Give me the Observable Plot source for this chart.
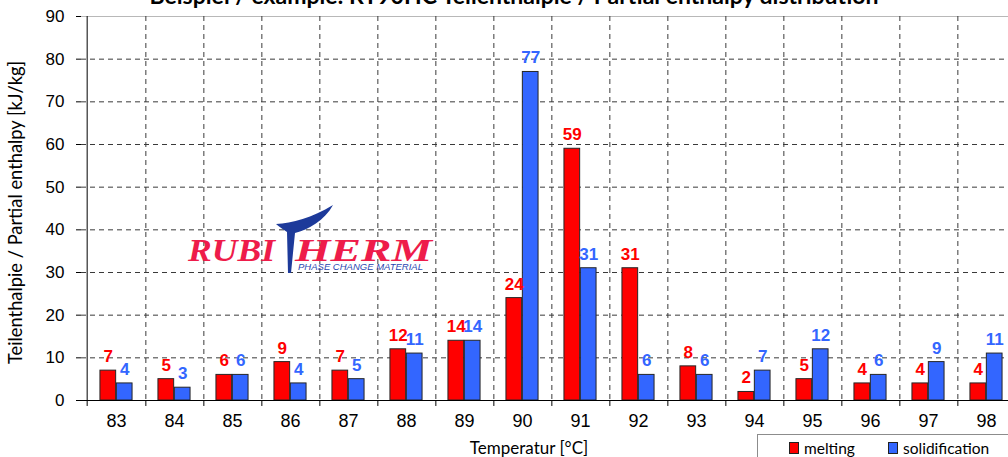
<!DOCTYPE html>
<html>
<head>
<meta charset="utf-8">
<script src="https://cdn.jsdelivr.net/npm/d3@7"></script>
<script src="https://cdn.jsdelivr.net/npm/@observablehq/plot@0.6"></script>
<style>
  html, body { margin: 0; padding: 0; background: white; }
  #wrap { position: relative; width: 1008px; height: 457px; overflow: hidden; }
  #legend { position: absolute; left: 757px; top: 434px; width: 260px; height: 30px;
    border: 1px solid #8c8c8c; background: white; font-family: Lato, "Open Sans", sans-serif; font-size: 15.5px; color: #000; }
  #legend .item { position: absolute; top: 4px; display: flex; align-items: center; }
  #legend .sw { width: 8px; height: 10px; border: 1px solid #222; margin-right: 5px; }
  #logo { position: absolute; left: 0; top: 0; pointer-events: none; }
</style>
</head>
<body>
<div id="wrap"></div>
<script>
const categories = ["83","84","85","86","87","88","89","90","91","92","93","94","95","96","97","98"];
const melting =       [7, 5, 6, 9, 7, 12, 14, 24, 59, 31, 8, 2, 5, 4, 4, 4];
const solidification = [4, 3, 6, 4, 5, 11, 14, 77, 31, 6, 6, 7, 12, 6, 9, 11];
const yTicks = [0, 10, 20, 30, 40, 50, 60, 70, 80, 90];
const gridTicks = [10, 20, 30, 40, 50, 60, 70, 80];
const seriesNames = ["melting", "solidification"];
const colors = ["#ff0000", "#3366ff"];
const titleText = "Beispiel / example: RT90HC Teilenthalpie / Partial enthalpy distribution";
const yLabel = "Teilenthalpie / Partial enthalpy [kJ/kg]";
const xLabel = "Temperatur [°C]";

const table = categories.map((c, i) => ({cat: c, melting: melting[i], solidification: solidification[i]}));

const x0 = 81.5, x1 = 1020.5;
const bw = (x1 - x0) / categories.length;
const barW = 16.4;
const grid = {stroke: "#3a3a3a", strokeDasharray: "5,4", strokeWidth: 1};
const arial = "'Liberation Sans', Arial, sans-serif";
const calibri = "Lato, 'Open Sans', sans-serif";

const chart = Plot.plot({
  width: 1008,
  height: 457,
  marginLeft: 81,
  marginRight: 0,
  marginTop: 16,
  marginBottom: 57,
  style: {fontFamily: arial, background: "white", color: "#000", overflow: "visible"},
  x: {type: "band", domain: categories, range: [x0, x1], padding: 0},
  y: {domain: [0, 90], range: [400, 16]},
  marks: [
    Plot.ruleY(gridTicks, grid),
    Plot.ruleY([90], {stroke: "#b8b8b8"}),
    Plot.ruleX(categories, {x: d => d, dx: bw / 2, ...grid}),
    Plot.barY(table, {x: "cat", y: "melting", fill: colors[0], stroke: "#262626", strokeWidth: 1,
      insetLeft: bw / 2 - barW, insetRight: bw / 2}),
    Plot.barY(table, {x: "cat", y: "solidification", fill: colors[1], stroke: "#262626", strokeWidth: 1,
      insetLeft: bw / 2, insetRight: bw / 2 - barW}),
    Plot.text(table, {x: "cat", y: "melting", text: d => String(d.melting), dx: -barW / 2, dy: -14,
      fill: colors[0], fontWeight: "bold", fontSize: 17, fontFamily: arial}),
    Plot.text(table, {x: "cat", y: "solidification", text: d => String(d.solidification), dx: barW / 2, dy: -14,
      fill: colors[1], fontWeight: "bold", fontSize: 17, fontFamily: arial}),
    Plot.ruleY([0], {stroke: "#000"}),
    Plot.ruleX([categories[0]], {dx: -bw / 2, stroke: "#000"}),
    Plot.ruleX(categories, {x: d => d, dx: bw / 2, y1: 0, y2: -1.4, stroke: "#000"}),
    Plot.ruleX([categories[0]], {dx: -bw / 2, y1: 0, y2: -1.4, stroke: "#000"}),
    Plot.axisY({ticks: yTicks, tickSize: 5, tickPadding: 12, fontSize: 17, fontFamily: arial, label: null}),
    Plot.axisX({tickSize: 0, tickPadding: 14, fontSize: 18, fontFamily: arial, label: null}),
    Plot.text([yLabel], {frameAnchor: "left", textAnchor: "middle", lineAnchor: "middle", rotate: -90, dx: -65, dy: 4,
      fontSize: 18.3, fontFamily: calibri}),
    Plot.text([xLabel], {frameAnchor: "bottom", lineAnchor: "middle", dx: -16, dy: 48, fontSize: 17, fontFamily: calibri}),
    Plot.text([titleText], {frameAnchor: "top", dx: -31, dy: -13, lineAnchor: "bottom", fontSize: 23,
      fontWeight: "bold", fontFamily: calibri})
  ]
});
const wrap = document.getElementById("wrap");
wrap.appendChild(chart);

// Logo (decoration)
const ns = "http://www.w3.org/2000/svg";
const logo = document.createElementNS(ns, "svg");
logo.setAttribute("id", "logo");
logo.setAttribute("width", 1008);
logo.setAttribute("height", 457);
logo.innerHTML = `
  <g font-family="'Liberation Serif', 'DejaVu Serif', serif" font-weight="bold" font-style="italic" fill="#ee1c4a">
    <text x="188" y="261" font-size="32" textLength="87" lengthAdjust="spacingAndGlyphs">RUBI</text>
    <text x="295" y="261" font-size="32" textLength="137" lengthAdjust="spacingAndGlyphs">HERM</text>
  </g>
  <path d="M276,224 C292,223 312,218 333,205 C325,220 308,230 295,233 L291,273 L288,273 L287,232 C283,229 279,227 276,224 Z" fill="#1d3a9a"/>
  <text x="298" y="270" font-family="'Liberation Sans', Arial, sans-serif" font-style="italic" font-size="9.5" fill="#2a46b0" textLength="125" lengthAdjust="spacingAndGlyphs">PHASE CHANGE MATERIAL</text>
`;
wrap.appendChild(logo);

// Legend
const legend = document.createElement("div");
legend.id = "legend";
const lx = [31, 130];
seriesNames.forEach((n, i) => {
  const it = document.createElement("div");
  it.className = "item";
  it.style.left = lx[i] + "px";
  const sw = document.createElement("div");
  sw.className = "sw";
  sw.style.background = colors[i];
  it.appendChild(sw);
  const t = document.createElement("span");
  t.textContent = n;
  it.appendChild(t);
  legend.appendChild(it);
});
wrap.appendChild(legend);
</script>
</body>
</html>
